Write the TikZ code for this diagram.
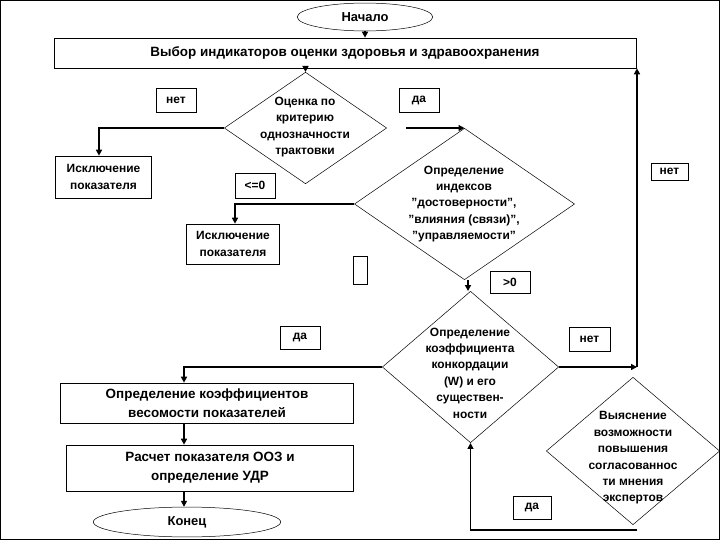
\documentclass[tikz,border=0pt]{standalone}
\usepackage{fontspec}
\setmainfont{Liberation Sans}
\usetikzlibrary{shapes.geometric,arrows.meta}
\begin{document}
\begin{tikzpicture}[x=1bp,y=-1bp,
  box/.style={draw,line width=0.8pt,inner sep=0,font=\fontsize{13.5}{19}\selectfont\bfseries,align=center},
  bx/.style={draw,line width=0.8pt,inner sep=0,font=\fontsize{12}{17}\selectfont\bfseries,align=center},
  lbl/.style={draw,line width=0.8pt,inner sep=0,font=\fontsize{12}{14}\selectfont\bfseries},
  dia/.style={draw,diamond,line width=0.5pt,inner sep=0},
  dtxt/.style={font=\fontsize{12}{16.5}\selectfont\bfseries,align=center},
  ov/.style={draw,ellipse,line width=0.5pt,inner sep=0,font=\fontsize{13}{15}\selectfont\bfseries},
  arr/.style={line width=1.8pt,-{Triangle[length=6bp,width=6bp]}}]
\useasboundingbox (0,0) rectangle (720,540);
\draw[line width=1.2pt] (0.6,0.6) rectangle (719.4,539.4);
\node[ov,minimum width=136,minimum height=28] (start) at (365,17) {Начало};
\node[box,minimum width=584,minimum height=30] (b1) at (345,53) {Выбор индикаторов оценки здоровья и здравоохранения};
\node[dia,minimum width=163,minimum height=112] (d1) at (305.5,128) {};
\node[dtxt] at (305,127) {Оценка по\\критерию\\однозначности\\трактовки};
\node[lbl,minimum width=40,minimum height=24] (l1) at (176,100) {нет};
\node[lbl,minimum width=40,minimum height=24] (l2) at (419,100) {да};
\node[bx,minimum width=97,minimum height=42] (ex1) at (103.5,177) {Исключение\\показателя};
\node[dia,minimum width=221,minimum height=152] (d2) at (464.5,204) {};
\node[dtxt] at (464,204) {Определение\\индексов\\"достоверности",\\"влияния (связи)",\\"управляемости"};
\node[lbl,minimum width=40,minimum height=25] (l3) at (255,185.5) {<=0};
\node[bx,minimum width=94,minimum height=40] (ex2) at (233,244) {Исключение\\показателя};
\node[draw,line width=0.8pt,minimum width=14,minimum height=28,inner sep=0] (sm) at (360,270) {};
\node[lbl,minimum width=40,minimum height=22] (l4) at (510,282) {>0};
\node[dia,minimum width=177,minimum height=152] (d3) at (470.5,367) {};
\node[dtxt] at (470,373) {Определение\\коэффициента\\конкордации\\(W) и его\\существен-\\ности};
\node[lbl,minimum width=40,minimum height=23] (l5) at (300,337.5) {да};
\node[box,minimum width=294,minimum height=40] (b3) at (207,403) {Определение коэффициентов\\весомости показателей};
\node[box,minimum width=288,minimum height=46] (b4) at (210,468) {Расчет показателя ООЗ и\\определение УДР};
\node[ov,minimum width=188,minimum height=30] (end) at (187,522) {Конец};
\node[lbl,minimum width=41,minimum height=24] (l6) at (589.5,339) {нет};
\node[dia,minimum width=174,minimum height=148] (d4) at (633,451) {};
\node[dtxt] at (633,458) {Выяснение\\возможности\\повышения\\согласованнос\\ти мнения\\экспертов};
\node[lbl,minimum width=38,minimum height=23] (l7) at (532,507.5) {да};
\node[lbl,minimum width=37,minimum height=17] (l8) at (669.5,171.5) {нет};
\coordinate (ya) at (406,128);
\coordinate (rv) at (637,367);
\coordinate (bl) at (637,530);
\draw[arr] (start.south) -- (start.south|-b1.north);
\draw[arr] (b1.south-|d1.north) -- (d1.north);
\draw[arr] (d1.west) -| (ex1.north-|99,0);
\draw[arr] (ya) -- (d2.north);
\draw[arr] (d2.west) -| (ex2.north-|235,0);
\draw[arr] (d2.south-|468,0) -- (d3.north-|468,0);
\draw[arr] (d3.west) -| (b3.north-|184,0);
\draw[arr] (b3.south-|184,0) -- (b4.north-|184,0);
\draw[arr] (b4.south-|184,0) -- (end.north-|184,0);
\draw[arr] (d3.east) -- (rv);
\draw[arr] (rv) -- (b1.south-|rv);
\draw[arr] (bl) -| (d3.south);
\end{tikzpicture}
\end{document}
